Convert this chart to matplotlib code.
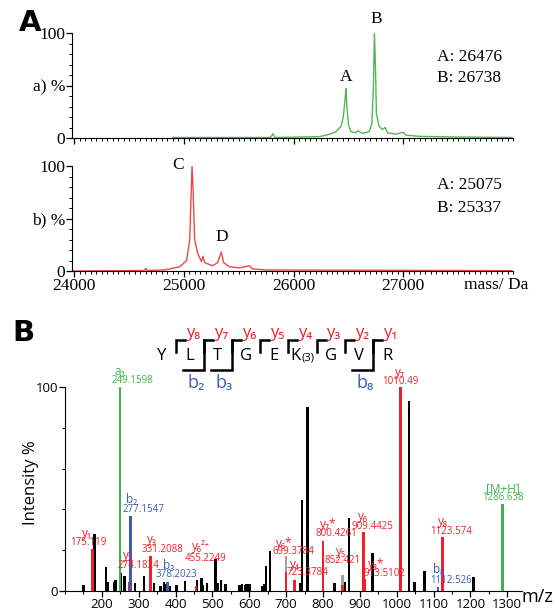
import matplotlib
matplotlib.use("Agg")
import matplotlib.pyplot as plt
from matplotlib.ticker import MultipleLocator, FixedLocator, FuncFormatter

# ---------------- data: panel A (deconvoluted spectra) ----------------
mass_a = [24900, 25790, 25810, 25830, 26235, 26325, 26386, 26432, 26453, 26471, 26477,
          26486, 26501, 26523, 26568, 26583, 26628, 26689, 26714, 26728, 26737, 26746,
          26755, 26780, 26810, 26834, 26856, 26932, 27001, 27023, 27144, 27445, 27992]
int_a = [0.5, 0.5, 4, 0.5, 1.3, 3.5, 6, 11, 20, 39, 47,
         30, 12, 6, 5, 7, 4.4, 6, 14, 52, 100, 68,
         23, 11, 8, 10, 5, 3.5, 5.5, 2.7, 1.6, 1, 0.5]

mass_b = [23980, 24640, 24653, 24666, 24825, 24962, 25025, 25053, 25068, 25074, 25083,
          25098, 25125, 25159, 25174, 25189, 25262, 25307, 25341, 25362, 25416, 25507,
          25598, 25625, 25753, 27990]
int_b = [0, 0.5, 2.5, 0.5, 1, 4, 10, 30, 80, 100, 80,
         30, 17, 9, 14, 8, 5, 8, 18, 8, 4, 3,
         5, 2, 1, 0.3]

legend_a = ["A: 26476", "B: 26738"]
legend_b = ["A: 25075", "B: 25337"]
mass_ticks = [24000, 25000, 26000, 27000]

# ---------------- data: panel B (MS/MS spectrum) ----------------
black_mz = [150, 180.5, 211, 215, 233, 237, 251, 262, 290, 314, 341, 359, 369, 374, 384.5,
            402.6, 426, 458.6, 471, 475, 485.7, 508, 514.6, 523.6, 535.5, 574, 580.5, 588,
            593, 601, 634.7, 640, 645, 656, 738.6, 743, 757.5, 831.7, 856, 859.6, 870.5,
            933.8, 1033, 1048.5, 1075.6, 1209]
black_int = [3, 28, 12, 4.6, 4.6, 5.4, 8.7, 7.4, 4, 7.4, 4, 2.5, 4.6, 3.5, 2.5,
             3, 5, 5.5, 6.3, 3, 4, 15.5, 3.8, 5.2, 3.4, 3, 3.4, 3,
             3.5, 3.5, 2.5, 3.5, 12.5, 19.5, 3.7, 44.6, 90, 4, 3, 4.4, 36,
             18.8, 93, 4.5, 10, 7]
red_mz = [175.119, 274.1824, 331.2088, 455.2249, 699.3784, 723.3784, 800.4261, 852.421,
          909.4425, 913.5102, 1010.49, 1123.574]
red_int = [20.4, 4.5, 17.3, 2.5, 9.5, 5.6, 24.4, 3, 29, 6, 100, 26.5]
blue_mz = [277.1547, 378.2023, 1112.526]
blue_int = [37, 4.6, 2]
green_mz = [249.1598, 1286.638]
green_int = [100, 42.5]
grey_mz = [699.3784, 852.421]
grey_int = [17, 8]

# annotations: (ion, value, ion_xy, value_xy, colour)
RED, BLUE, GREEN = "#ee2128", "#3d5bb0", "#3db54a"
ion_labels = [
    ("a₂", "249.1598", (249, 107.4), (284, 103), GREEN),
    ("b₂", "277.1547", (281, 45), (312, 40), BLUE),
    ("y₁", "175.119", (160, 28.3), (163, 23.7), RED),
    ("y₃", "331.2088", (335, 25), (364, 20.4), RED),
    ("y₂", "274.1824", (271.6, 17.6), (299, 12.7), RED),
    ("b₃", "378.2023", (380, 12.7), (403, 8.3), BLUE),
    ("y₆²⁺", "455.2249", (470, 22), (481, 16), RED),
    ("y₆*", "699.3784", (696, 23.4), (719, 19.3), RED),
    ("y₄", "723.3784", (723, 13), (756.6, 9), RED),
    ("y₇*", "800.4261", (813.5, 32.4), (836, 28), RED),
    ("y₅", "852.421", (850, 19.3), (852.5, 15), RED),
    ("y₆", "909.4425", (908, 36.4), (935.5, 31.5), RED),
    ("y₈*", "913.5102", (943, 13.2), (967, 8.7), RED),
    ("y₇", "1010.49", (1008, 107), (1010, 102.6), RED),
    ("y₈", "1123.574", (1125, 34), (1148, 29), RED),
    ("b₈", "1112.526", (1113.5, 10.3), (1148, 5), BLUE),
    ("[M+H]", "1286.638", (1288, 50.3), (1288, 45.7), GREEN),
]
mz_ticks = [200, 300, 400, 500, 600, 700, 800, 900, 1000, 1100, 1200, 1300]

# peptide sequence diagram
residues = ["Y", "L", "T", "G", "E", "K", "G", "V", "R"]
y_ions = ["y₈", "y₇", "y₆", "y₅", "y₄", "y₃", "y₂", "y₁"]
b_ion_sites = {1: "b₂", 2: "b₃", 7: "b₈"}

SERIF = ["Liberation Serif", "DejaVu Serif"]
SANS = ["Open Sans", "DejaVu Sans"]

fig = plt.figure(figsize=(5.59, 6.10), dpi=100)
W, H = 559, 610

def frac(x0, y0, x1, y1):
    return [x0 / W, 1 - y1 / H, (x1 - x0) / W, (y1 - y0) / H]

def style_mass_axis(ax, label_x):
    for s in ("top", "right"):
        ax.spines[s].set_visible(False)
    ax.set_xlim(23980, 28000)
    ax.set_ylim(0, 100)
    ax.xaxis.set_major_locator(FixedLocator(mass_ticks))
    ax.xaxis.set_minor_locator(MultipleLocator(50))
    ax.yaxis.set_major_locator(FixedLocator([0, 50, 100]))
    ax.yaxis.set_minor_locator(MultipleLocator(10))
    ax.tick_params(axis="both", which="major", length=4, width=0.9, pad=1)
    ax.tick_params(axis="both", which="minor", length=2.2, width=0.7)
    ax.yaxis.set_major_formatter(FuncFormatter(lambda v, p: {0: "0", 50: label_x, 100: "100"}[int(v)]))
    for lab in ax.get_yticklabels() + ax.get_xticklabels():
        lab.set_family(SERIF)
        lab.set_fontsize(12.5)

ax_a = fig.add_axes(frac(72, 33, 513, 138))
ax_a.plot(mass_a, int_a, color="#55b553", lw=1.0)
style_mass_axis(ax_a, "a) %")
ax_a.set_xticklabels([])
ax_a.text(26480, 58, "A", ha="center", va="center", family=SERIF, fontsize=12.5, clip_on=False)
ax_a.text(26753, 113, "B", ha="center", va="center", family=SERIF, fontsize=12.5, clip_on=False)

ax_b = fig.add_axes(frac(72, 166, 513, 271))
ax_b.plot(mass_b, int_b, color="#f0474a", lw=1.0)
style_mass_axis(ax_b, "b) %")
ax_b.set_xticklabels([str(t) for t in mass_ticks], family=SERIF, fontsize=12.5)
ax_b.text(24944, 101, "C", ha="center", va="center", family=SERIF, fontsize=12.5, clip_on=False)
ax_b.text(25344, 32, "D", ha="center", va="center", family=SERIF, fontsize=12.5, clip_on=False)

# panel B
axB = fig.add_axes(frac(65, 387, 522, 591))
for s in ("top", "right"):
    axB.spines[s].set_visible(False)
bw = 7
axB.bar(black_mz, black_int, width=bw, color="black", zorder=2)
axB.bar(grey_mz, grey_int, width=bw, color="#a0a0a0", zorder=2)
axB.bar(red_mz, red_int, width=bw, color=RED, zorder=3)
axB.bar(blue_mz, blue_int, width=bw, color=BLUE, zorder=3)
axB.bar(green_mz, green_int, width=bw, color=GREEN, zorder=3)
axB.set_xlim(100, 1340)
axB.set_ylim(0, 100)
axB.xaxis.set_major_locator(FixedLocator(mz_ticks))
axB.xaxis.set_minor_locator(MultipleLocator(50))
axB.yaxis.set_major_locator(FixedLocator([0, 100]))
axB.yaxis.set_minor_locator(MultipleLocator(20))
axB.tick_params(axis="both", which="major", length=4, width=0.9, pad=1, labelsize=9.5)
axB.tick_params(axis="both", which="minor", length=2.5, width=0.8)
for lab in axB.get_yticklabels() + axB.get_xticklabels():
    lab.set_family(SANS)
axB.set_ylabel("Intensity %", family=SANS, fontsize=12)
axB.yaxis.set_label_coords(-0.057, 0.53)
for ion, val, ixy, vxy, col in ion_labels:
    axB.text(*ixy, ion, color=col, ha="center", va="center", family=SANS, fontsize=8.5, clip_on=False)
    axB.text(*vxy, val, color=col, ha="center", va="center", family=SANS, fontsize=7, clip_on=False)

# overlay for figure-level text & sequence diagram
ov = fig.add_axes([0, 0, 1, 1], zorder=5)
ov.set_xlim(0, W)
ov.set_ylim(H, 0)
ov.axis("off")
ov.patch.set_alpha(0)

ov.text(30, 23, "A", ha="center", va="center", fontsize=21, fontweight="bold", family="DejaVu Sans")
ov.text(23, 333, "B", ha="center", va="center", fontsize=21, fontweight="bold", family="DejaVu Sans")
for i, t in enumerate(legend_a):
    ov.text(437, 57 + 21 * i, t, ha="left", va="center", family=SERIF, fontsize=12.5)
for i, t in enumerate(legend_b):
    ov.text(437, 185 + 23 * i, t, ha="left", va="center", family=SERIF, fontsize=12.5)
ov.text(496, 285, "mass/ Da", ha="center", va="center", family=SERIF, fontsize=12.5)
ov.text(537, 597, "m/z", ha="center", va="center", family=SANS, fontsize=13)

x0, step = 161.5, 28.2
y_top, y_mid, y_bot, y_letter = 340, 352, 370, 356
for i, r in enumerate(residues):
    x = x0 + step * i
    if r == "K":
        ov.text(x - 7, y_letter, "K", ha="center", va="center", family=SANS, fontsize=12)
        ov.text(x + 5, y_letter + 1.5, "(3)", ha="center", va="center", family=SANS, fontsize=8)
    else:
        ov.text(x, y_letter, r, ha="center", va="center", family=SANS, fontsize=12)
for i, yl in enumerate(y_ions):
    xc = x0 + step * (i + 0.5)
    ov.plot([xc, xc, xc + 9], [y_mid, y_top, y_top], color="black", lw=1.8, solid_joinstyle="miter")
    ov.text(xc + 17, y_top - 7, yl, color=RED, ha="center", va="center", family=SANS, fontsize=12)
    if i in b_ion_sites:
        ov.plot([xc, xc, xc - 21], [y_top, y_bot, y_bot], color="black", lw=1.8, solid_joinstyle="miter")
        ov.text(xc - 8, y_bot + 13, b_ion_sites[i], color=BLUE, ha="center", va="center", family=SANS, fontsize=13)

fig.savefig("out.png", dpi=100)
